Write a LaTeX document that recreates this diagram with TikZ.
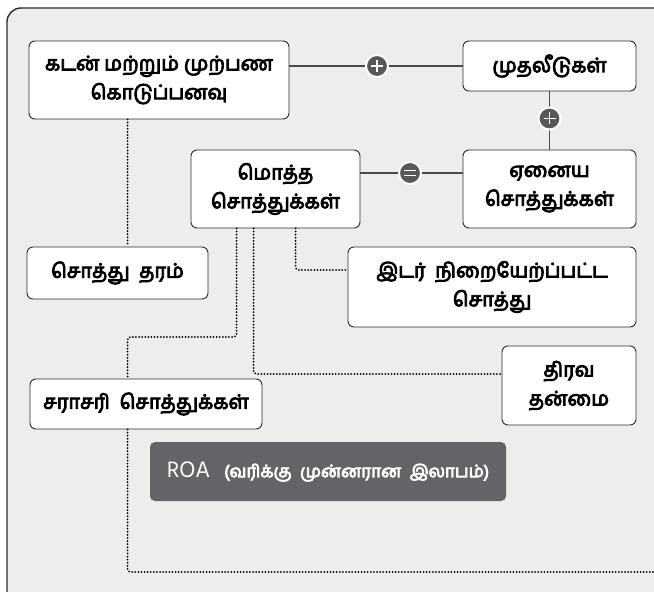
\documentclass[tikz,border=0pt]{standalone}
\usepackage{fontspec}
\newfontfamily\tamil[Script=Tamil]{Hind Madurai}
\newfontfamily\tamilheavy[Script=Tamil, FakeBold=4.5]{Hind Madurai}
\usetikzlibrary{calc}
\definecolor{panel}{HTML}{EDEDED}
\definecolor{edge}{HTML}{2B2B2B}
\definecolor{linkgray}{HTML}{4A4A4A}
\definecolor{opfill}{HTML}{58585C}
\definecolor{roafill}{HTML}{646468}
\tikzset{
  box/.style={draw=edge, line width=0.9bp, fill=white, rounded corners=6bp,
    align=center, inner sep=0pt, font=\tamilheavy\fontsize{20}{29}\selectfont},
  link/.style={draw=linkgray, line width=1.3bp},
  dotline/.style={draw=black, line width=2bp, line cap=round, dash pattern=on 0bp off 3.1bp, rounded corners=3bp},
  opnode/.style={circle, fill=opfill, draw=white, line width=2bp, minimum size=22bp, inner sep=0pt},
}
\begin{document}
\begin{tikzpicture}[x=1bp,y=-1bp]
\useasboundingbox (0,0) rectangle (654,592);
\begin{scope}
\clip (0,0) rectangle (654,592);
% background panel
\draw[fill=panel, draw=edge, line width=1.4bp, rounded corners=14bp] (7,8) rectangle (668,606);

% boxes
\node[box, minimum width=260bp, minimum height=78bp] (credit) at (159,80) {கடன்\ மற்றும்\ முற்பண\\கொடுப்பனவு};
\node[box, minimum width=173bp, minimum height=50bp] (invest) at (549.5,66) {முதலீடுகள்};
\node[box, minimum width=173bp, minimum height=78bp] (other) at (549.5,189) {ஏனைய\\சொத்துக்கள்};
\node[box, minimum width=169bp, minimum height=78bp] (total) at (275.5,189) {மொத்த\\சொத்துக்கள்};
\node[box, minimum width=181bp, minimum height=52bp] (quality) at (117.5,273) {சொத்து\ \ தரம்};
\node[box, minimum width=288bp, minimum height=80bp] (risk) at (492,287) {இடர்\ \ நிறையேற்ப்பட்ட\\சொத்து};
\node[box, minimum width=134bp, minimum height=79bp] (liquid) at (569,385.5) {திரவ\\தன்மை};
\node[box, minimum width=232bp, minimum height=50bp] (avg) at (146,404) {சராசரி\ \ சொத்துக்கள்};
\node[fill=roafill, rounded corners=5bp, minimum width=356bp, minimum height=59bp, inner sep=0pt,
  text=white] (roa) at (328,471.5)
  {{\tamil\fontsize{23}{24}\selectfont ROA}\hspace{14bp}{\tamilheavy\fontsize{17.2}{24}\selectfont (வரிக்கு\ \ முன்னரான\ \ இலாபம்)}};

% solid links with operators
\draw[link] (credit.east |- invest.west) -- (invest.west);
\node[opnode] (plusA) at (377,66) {};
\draw[white, line width=1.6bp] ($(plusA)+(-6,0)$) -- ($(plusA)+(6,0)$) ($(plusA)+(0,-6)$) -- ($(plusA)+(0,6)$);

\draw[link] (invest.south) -- (other.north);
\node[opnode] (plusB) at (549.5,118.5) {};
\draw[white, line width=1.6bp] ($(plusB)+(-6,0)$) -- ($(plusB)+(6,0)$) ($(plusB)+(0,-6)$) -- ($(plusB)+(0,6)$);

\coordinate (eqy) at ($(other.west)+(0,-16)$);
\draw[link] (eqy -| total.east) -- (eqy);
\node[opnode] (equal) at (410,173) {};
\draw[white, line width=1.6bp] ($(equal)+(-6,-2.5)$) -- ($(equal)+(6,-2.5)$) ($(equal)+(-6,2.5)$) -- ($(equal)+(6,2.5)$);

% dotted links
\coordinate (c1) at ($(credit.south west)+(99,0)$);
\draw[dotline] (c1) -- (c1 |- quality.north);

\coordinate (t1) at ($(total.south west)+(46,0)$);
\coordinate (t2) at ($(total.south west)+(63,0)$);
\coordinate (t3) at ($(total.south west)+(105,0)$);
\draw[dotline] (t1) -- (t1 |- 0,337) -- (c1 |- 0,337) -- (c1 |- avg.north);
\draw[dotline] (t2) -- (t2 |- 0,374) -- (liquid.west |- 0,374);
\draw[dotline] (t3) -- (t3 |- 0,270) -- (risk.west |- 0,270);
\coordinate (a1) at (c1 |- avg.south);
\coordinate (far) at (660,572);
\draw[dotline] (a1) -- (a1 |- far) -- (far);
\end{scope}
\end{tikzpicture}
\end{document}
